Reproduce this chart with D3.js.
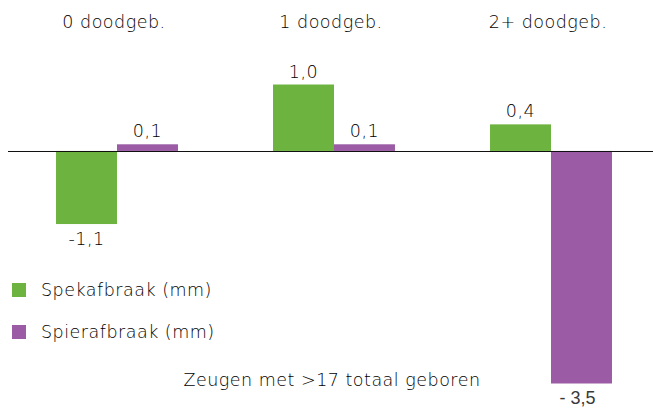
<!DOCTYPE html>
<html>
<head>
<meta charset="utf-8">
<script src="https://cdn.jsdelivr.net/npm/d3@7"></script>
<style>
  html, body { margin: 0; padding: 0; background: #fff; }
  svg { display: block; }
  text { font-family: "DejaVu Sans", sans-serif; font-weight: 200; fill: #000; letter-spacing: 0.5px; }
</style>
</head>
<body>
<div id="chart"></div>
<script>
const categories = ['0 doodgeb.', '1 doodgeb.', '2+ doodgeb.'];
const seriesNames = ['Spekafbraak (mm)', 'Spierafbraak (mm)'];
const spekValues = [-1.1, 1.0, 0.4];
const spierValues = [0.1, 0.1, -3.5];
const valueLabels = [['-1,1', '1,0', '0,4'], ['0,1', '0,1', '- 3,5']];
const footnote = 'Zeugen met >17 totaal geboren';

const COLORS = ['#6db33f', '#9b5ba5'];
const width = 653, height = 408;
const FS = '17.5px';

const svg = d3.select('#chart').append('svg')
    .attr('width', width)
    .attr('height', height);

const x0 = d3.scaleBand()
    .domain(categories)
    .range([8.5, 659.5])
    .paddingInner(0.438)
    .paddingOuter(0.219);
const x1 = d3.scaleBand()
    .domain(seriesNames)
    .range([0, x0.bandwidth()]);
const y = d3.scaleLinear()
    .domain([-3.5, 1.0])
    .range([383.5, 84.5]);

const rows = categories.map((c, i) => ({
    cat: c,
    vals: [spekValues[i], spierValues[i]].map((v, s) => ({
        series: seriesNames[s], s, v, label: valueLabels[s][i],
    })),
}));

// category headers
svg.selectAll('text.cat')
    .data(categories)
    .enter()
    .append('text')
    .attr('class', 'cat')
    .attr('x', c => x0(c) + x0.bandwidth() / 2 - 3)
    .attr('y', 28)
    .attr('text-anchor', 'middle')
    .style('font-size', FS)
    .text(c => c);

const group = svg.selectAll('g.grp')
    .data(rows)
    .enter()
    .append('g')
    .attr('class', 'grp')
    .attr('transform', r => `translate(${x0(r.cat)},0)`);

group.selectAll('rect')
    .data(r => r.vals)
    .enter()
    .append('rect')
    .attr('x', d => x1(d.series))
    .attr('width', x1.bandwidth())
    .attr('y', d => y(Math.max(0, d.v)))
    .attr('height', d => Math.abs(y(d.v) - y(0)))
    .attr('fill', d => COLORS[d.s]);

const deep = d => d.v < -2;
group.selectAll('text.val')
    .data(r => r.vals)
    .enter()
    .append('text')
    .attr('class', 'val')
    .attr('x', d => x1(d.series) + x1.bandwidth() / 2 - (deep(d) ? 4 : 0))
    .attr('y', d => d.v >= 0 ? y(d.v) - 7 : y(d.v) + (deep(d) ? 20 : 21))
    .attr('text-anchor', 'middle')
    .style('font-size', d => deep(d) ? '18px' : FS)
    .style('font-family', d => deep(d) ? '"Liberation Sans", Arial, sans-serif' : null)
    .style('font-weight', d => deep(d) ? 'normal' : null)
    .style('letter-spacing', d => deep(d) ? '0px' : null)
    .style('fill', d => deep(d) ? '#3a3a3a' : null)
    .text(d => d.label);

// zero line
svg.append('line')
    .attr('x1', 8)
    .attr('x2', width)
    .attr('y1', Math.round(y(0)) + 0.5)
    .attr('y2', Math.round(y(0)) + 0.5)
    .attr('stroke', '#111')
    .attr('stroke-width', 1.2);

// legend
const legend = svg.selectAll('g.legend')
    .data(seriesNames)
    .enter()
    .append('g')
    .attr('class', 'legend')
    .attr('transform', (d, i) => `translate(12,${283 + i * 42})`);
legend.append('rect')
    .attr('width', 14)
    .attr('height', 14)
    .attr('fill', (d, i) => COLORS[i]);
legend.append('text')
    .attr('x', 29)
    .attr('y', 13)
    .style('font-size', FS)
    .text(d => d);

svg.append('text')
    .attr('x', 332)
    .attr('y', 386)
    .attr('text-anchor', 'middle')
    .style('font-size', FS)
    .text(footnote);
</script>
</body>
</html>
